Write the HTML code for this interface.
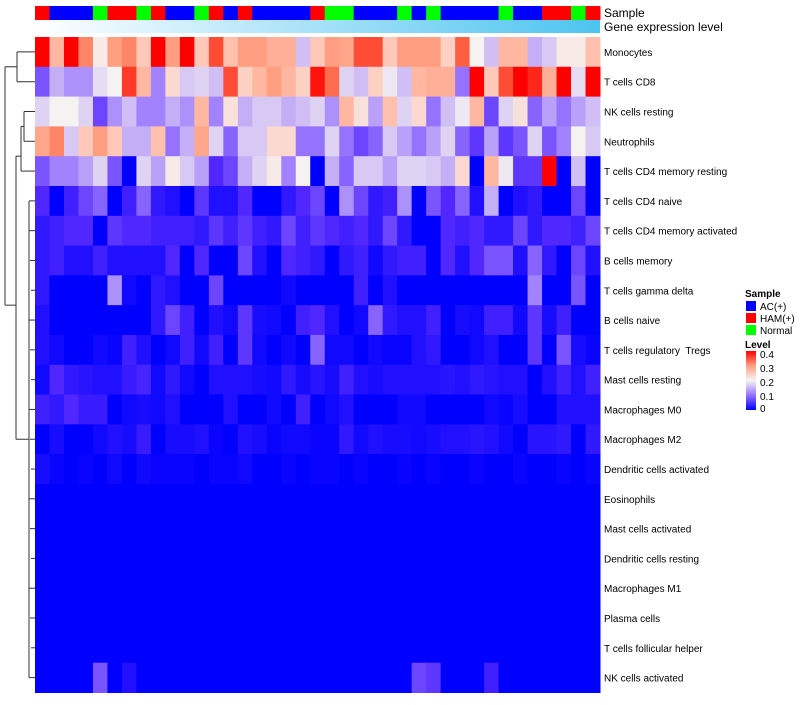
<!DOCTYPE html>
<html><head><meta charset="utf-8"><style>
body{margin:0;background:#fff;font-family:"Liberation Sans",sans-serif}
svg text{font-family:"Liberation Sans",sans-serif;fill:#000;white-space:pre}
</style></head><body>
<svg id="chart" width="800" height="700" viewBox="0 0 800 700" xmlns="http://www.w3.org/2000/svg">
<defs><linearGradient id="geneGrad" x1="0" x2="1" y1="0" y2="0"><stop offset="0" stop-color="#ffffff"/><stop offset="1" stop-color="#4cc4f0"/></linearGradient>
<linearGradient id="levelGrad" x1="0" x2="0" y1="1" y2="0"><stop offset="0" stop-color="#0000ff"/><stop offset="0.25" stop-color="#9673ff"/><stop offset="0.5" stop-color="#f5f5f5"/><stop offset="0.75" stop-color="#ffa082"/><stop offset="1" stop-color="#ff0000"/></linearGradient></defs>
<g id="dendro" stroke="#333" stroke-width="1" fill="none"></g>
<g id="cells"></g>
<g id="annot"></g>
<rect x="35" y="20" width="565" height="13" fill="url(#geneGrad)"/>
<text x="604" y="17" font-size="12">Sample</text>
<text x="604" y="31" font-size="12">Gene expression level</text>
<g id="rowlabels" font-size="10"></g>
<g font-size="10">
<text x="745" y="297" font-weight="bold">Sample</text>
<rect x="746" y="301" width="10" height="10" fill="#0000ff"/>
<text x="760" y="310">AC(+)</text>
<rect x="746" y="313" width="10" height="10" fill="#ff0000"/>
<text x="760" y="322">HAM(+)</text>
<rect x="746" y="325" width="10" height="10" fill="#00ff00"/>
<text x="760" y="334">Normal</text>
<text x="745" y="348" font-weight="bold">Level</text>
<rect x="746" y="351" width="10" height="59" fill="url(#levelGrad)"/>
<text x="760" y="358">0.4</text>
<text x="760" y="372">0.3</text>
<text x="760" y="386">0.2</text>
<text x="760" y="400">0.1</text>
<text x="760" y="412">0</text>
</g>
</svg>
<script>
const rowNames=["Monocytes","T cells CD8","NK cells resting","Neutrophils","T cells CD4 memory resting","T cells CD4 naive","T cells CD4 memory activated","B cells memory","T cells gamma delta","B cells naive","T cells regulatory  Tregs","Mast cells resting","Macrophages M0","Macrophages M2","Dendritic cells activated","Eosinophils","Mast cells activated","Dendritic cells resting","Macrophages M1","Plasma cells","T cells follicular helper","NK cells activated"];
const sampleGroups="RBBBGRRGRBBGRBRBBBBRGGBBBGBGBBBBGBBRRGR".split("");
const r0=[.4,.27,.4,.32,.21,.3,.32,.25,.4,.3,.4,.25,.36,.26,.3,.3,.28,.28,.15,.25,.3,.29,.36,.36,.25,.3,.3,.3,.24,.35,.2,.15,.27,.27,.14,.16,.21,.21,.26];
const r1=[.08,.14,.12,.12,.18,.2,.37,.27,.11,.23,.16,.17,.15,.36,.24,.27,.3,.27,.24,.39,.34,.17,.15,.24,.19,.15,.27,.28,.28,.1,.4,.25,.36,.4,.38,.28,.4,.18,.4];
const r2=[.17,.2,.2,.17,.07,.12,.15,.11,.11,.14,.12,.27,.11,.22,.14,.16,.16,.14,.15,.17,.12,.27,.22,.13,.26,.17,.23,.1,.15,.19,.27,.07,.17,.22,.09,.13,.1,.13,.15];
const r3=[.29,.32,.16,.25,.3,.25,.14,.14,.26,.1,.14,.29,.17,.09,.16,.16,.23,.23,.1,.1,.17,.1,.07,.09,.16,.13,.1,.13,.17,.09,.06,.13,.06,.08,.17,.08,.11,.2,.16];
const r4=[.08,.11,.11,.13,.17,.08,0,.17,.13,.21,.16,.13,.05,.07,.14,.17,.21,.11,.2,0,.14,.09,.16,.16,.13,.17,.17,.16,.14,.23,0,.27,.19,.06,.06,.4,0,.15,0];
const r5=[.05,0,.04,.07,.09,0,.04,.09,.03,.02,0,.06,.02,.02,.05,0,0,.03,.05,.07,0,.12,.07,.03,.04,.12,0,.08,.05,.09,.02,.14,0,.02,.03,0,0,.07,0];
const r6=[.03,.04,.05,.05,0,.06,.05,.05,.04,.04,.04,.03,.06,.04,.06,.04,.03,.07,.04,.06,.05,.04,.05,.03,.07,.03,0,0,.05,.04,.05,.03,.03,.07,.03,.05,.05,.04,.07];
const r7=[.03,.04,.02,.02,.04,.02,.02,.02,.02,.05,0,.05,0,0,.07,.02,0,.05,.04,.03,0,.03,.04,.01,.03,.04,.04,0,.05,.02,.05,.08,.08,.02,.09,.03,0,.07,.02];
const r8=[.03,0,0,0,0,.12,.01,0,.03,.02,0,0,.07,0,0,0,0,.01,0,0,0,0,.04,0,.02,0,0,0,0,0,0,0,0,0,.11,0,0,.08,0];
const r9=[.02,0,0,0,0,0,0,0,.03,.07,.04,0,.02,.01,.06,.015,.01,0,.04,.05,.02,0,.01,.09,.03,.02,.02,.04,0,.015,.01,.04,.04,.01,.06,.015,.04,0,0];
const r10=[.02,.01,0,0,.01,.005,.04,.02,0,.01,.04,.01,.04,0,.06,.01,0,.01,0,.09,.01,.01,0,.01,.005,.005,.02,.03,0,0,.01,.02,0,0,.06,0,.08,.015,.005];
const r11=[.01,.05,.03,.025,.02,.02,.035,.045,.01,.03,.01,0,.02,.02,.02,.015,.01,.03,.015,.025,.015,.04,.02,.015,.02,.02,.02,.02,.025,.02,.03,.025,.02,.02,0,.02,.04,.02,.04];
const r12=[.04,.03,.05,.035,.035,0,.01,.015,.01,.02,0,0,0,.02,0,0,.01,0,.04,0,.01,.02,0,0,0,.01,.01,0,0,0,0,.01,.005,.015,0,0,.02,.02,.02];
const r13=[0,.015,0,0,.01,.02,.015,.035,0,.015,.015,.02,.005,0,.02,.015,.005,.01,.01,.005,.005,.03,.01,.02,.015,.015,.01,.015,.02,.02,.025,.02,.01,0,.025,.025,.03,0,.03];
const r14=[.015,.005,0,.005,0,.01,0,.01,.005,.005,.005,0,.005,.005,.01,0,0,.005,0,.005,.005,0,.005,0,0,.005,0,.005,0,0,.005,0,0,.005,0,0,.005,0,.005];
const r21=[0,0,0,0,.08,0,.02,0,0,0,0,0,0,0,0,0,0,0,0,0,0,0,0,0,0,0,.07,.06,0,0,0,.04,0,0,0,0,0,0,0];
const zeroRow=new Array(39).fill(0);
const values=[r0,r1,r2,r3,r4,r5,r6,r7,r8,r9,r10,r11,r12,r13,r14,zeroRow,zeroRow,zeroRow,zeroRow,zeroRow,zeroRow,r21];
const groupColors={R:"#ff0000",B:"#0000ff",G:"#00ff00"};
const X0=35,X1=600,Y0=37,Y1=692.5;
const nCol=sampleGroups.length,nRow=rowNames.length;
const cw=(X1-X0)/nCol,rh=(Y1-Y0)/nRow;
const xPos=i=>X0+i*cw, yPos=j=>Y0+j*rh;
const stops=[[0,[0,0,255]],[.05,[80,40,255]],[.1,[150,115,255]],[.15,[208,190,245]],[.2,[245,242,242]],[.25,[255,200,185]],[.3,[255,158,128]],[.35,[255,95,65]],[.4,[255,0,0]]];
function colorOf(v){v=Math.max(0,Math.min(.4,v));for(let k=1;k<stops.length;k++){if(v<=stops[k][0]){const[a,ca]=stops[k-1],[b,cb]=stops[k];const t=(v-a)/(b-a);return "rgb("+ca.map((c,m)=>Math.round(c+(cb[m]-c)*t)).join(",")+")";}}return "rgb(255,0,0)";}
const NS="http://www.w3.org/2000/svg";
const cells=document.getElementById("cells");
values.forEach((row,j)=>row.forEach((v,i)=>{const r=document.createElementNS(NS,"rect");


r.setAttribute("x",xPos(i));r.setAttribute("y",yPos(j));r.setAttribute("width",cw+0.5);r.setAttribute("height",rh+0.5);r.setAttribute("fill",colorOf(v));cells.appendChild(r);}));
const annot=document.getElementById("annot");
sampleGroups.forEach((g,i)=>{const r=document.createElementNS(NS,"rect");


r.setAttribute("x",xPos(i));r.setAttribute("y",6);r.setAttribute("width",cw+0.5);r.setAttribute("height",14);r.setAttribute("fill",groupColors[g]);annot.appendChild(r);});
const rl=document.getElementById("rowlabels");
rowNames.forEach((n,j)=>{const t=document.createElementNS(NS,"text");


t.setAttribute("x",604);t.setAttribute("y",yPos(j)+rh/2+4);t.textContent=n;rl.appendChild(t);});
const cy=j=>yPos(j)+rh/2;
const d=document.getElementById("dendro");
function seg(x1,y1,x2,y2){const l=document.createElementNS(NS,"path");


l.setAttribute("d",`M${x1} ${y1}L${x2} ${y2}`);d.appendChild(l);}
function node(x,ya,yb,xa,xb){seg(x,ya,x,yb);seg(x,ya,xa,ya);seg(x,yb,xb,yb);}
node(17,cy(0),cy(1),35,35);
node(24,cy(2),cy(3),35,35);
node(21,cy(2.5),cy(4),24,35);
node(29,cy(5),cy(21),35,35);
for(let j=6;j<21;j++){seg(29+(j%3),cy(j),35,cy(j));}
node(16,cy(3.5),cy(13),21,29);
node(5,cy(0.5),cy(8.5),17,16);
</script>
</body></html>
